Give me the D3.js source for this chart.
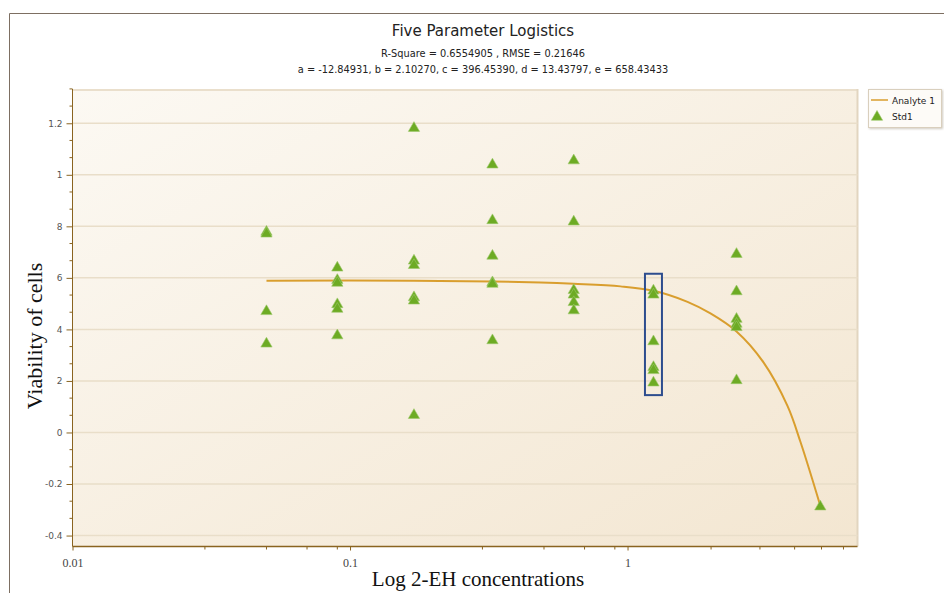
<!DOCTYPE html>
<html>
<head>
<meta charset="utf-8">
<script src="https://cdn.jsdelivr.net/npm/d3@7"></script>
<style>
    body { margin: 0; background: #fff; }
    svg { display: block; }
</style>
</head>
<body>
<div id="chart"></div>
<script>
// concentrations of each standard group (x) and the measured viabilities (y)
const concentrations = [0.05, 0.09, 0.17, 0.326, 0.64, 1.24, 2.47, 4.95];
const viability = [
    [0.782, 0.775, 0.474, 0.348],
    [0.643, 0.595, 0.584, 0.501, 0.483, 0.380],
    [1.185, 0.670, 0.653, 0.528, 0.515, 0.071],
    [1.043, 0.827, 0.689, 0.586, 0.580, 0.361],
    [1.059, 0.822, 0.556, 0.538, 0.509, 0.477],
    [0.554, 0.538, 0.357, 0.257, 0.245, 0.197],
    [0.696, 0.551, 0.444, 0.425, 0.412, 0.206],
    [-0.284]
];

// fitted curve (Analyte 1)
const fitX = [0.05, 0.17, 0.326, 0.486, 0.64, 0.944, 1.24, 1.645, 1.99, 2.47, 3.09, 3.77, 4.20, 4.95];
const fitY = [0.589, 0.589, 0.586, 0.582, 0.577, 0.567, 0.550, 0.507, 0.462, 0.392, 0.272, 0.103, -0.037, -0.284];

// highlighted group (blue box)
const boxGroup = 5;
const boxRange = [0.145, 0.616];

const yTickValues = [-0.4, -0.2, 0, 0.2, 0.4, 0.6, 0.8, 1, 1.2];
const yTickLabels = ['-0.4', '-0.2', '0', '2', '4', '6', '8', '1', '1.2'];
const xTickValues = [0.01, 0.1, 1];
const xTickLabels = ['0.01', '0.1', '1'];
const xMinorTicks = [0.03, 0.05, 0.07, 0.09, 0.3, 0.5, 0.7, 0.9, 2, 3, 4, 5, 6];

const title = 'Five Parameter Logistics';
const subtitle1 = 'R-Square = 0.6554905 , RMSE = 0.21646';
const subtitle2 = 'a = -12.84931, b = 2.10270, c = 396.45390, d = 13.43797, e = 658.43433';

const width = 944;
const height = 593;
const plot = { left: 72.5, right: 857.5, top: 89, bottom: 546.5 };

const svg = d3.select('#chart')
    .append('svg')
    .attr('width', width)
    .attr('height', height);

const defs = svg.append('defs');
const grad = defs.append('linearGradient')
    .attr('id', 'bg')
    .attr('x1', '0%').attr('y1', '0%')
    .attr('x2', '100%').attr('y2', '100%');
grad.append('stop').attr('offset', '0%').attr('stop-color', '#fcf9f3');
grad.append('stop').attr('offset', '100%').attr('stop-color', '#f3e6d1');

const shadow = defs.append('filter').attr('id', 'shadow');
shadow.append('feDropShadow')
    .attr('dx', 1).attr('dy', 1).attr('stdDeviation', 1)
    .attr('flood-color', '#b0a898').attr('flood-opacity', 0.6);

// outer frame
svg.append('path')
    .attr('d', `M9.5,${height} V13.5 H${width}`)
    .attr('fill', 'none')
    .attr('stroke', '#7d6f62')
    .attr('stroke-width', 1);

// titles
svg.append('text')
    .attr('x', 483).attr('y', 36)
    .attr('text-anchor', 'middle')
    .style('font-family', 'DejaVu Sans, sans-serif')
    .style('font-size', '15px')
    .attr('fill', '#222')
    .text(title);

svg.append('text')
    .attr('x', 483).attr('y', 57)
    .attr('text-anchor', 'middle')
    .style('font-family', 'DejaVu Sans, sans-serif')
    .style('font-size', '9.8px')
    .attr('fill', '#222')
    .text(subtitle1);

svg.append('text')
    .attr('x', 483).attr('y', 73)
    .attr('text-anchor', 'middle')
    .style('font-family', 'DejaVu Sans, sans-serif')
    .style('font-size', '9.8px')
    .attr('fill', '#222')
    .text(subtitle2);

// scales
const xScale = d3.scaleLog().domain([0.01, 6.74]).range([plot.left, plot.right]);
const yScale = d3.scaleLinear().domain([-0.4425, 1.333]).range([plot.bottom, plot.top]);

// plot background
svg.append('rect')
    .attr('x', plot.left)
    .attr('y', plot.top)
    .attr('width', plot.right - plot.left)
    .attr('height', plot.bottom - plot.top)
    .attr('fill', 'url(#bg)');

svg.append('line')
    .attr('x1', plot.left).attr('x2', plot.right)
    .attr('y1', plot.top + 1).attr('y2', plot.top + 1)
    .attr('stroke', '#eadfcc').attr('stroke-width', 2);
svg.append('line')
    .attr('x1', plot.right).attr('x2', plot.right)
    .attr('y1', plot.top).attr('y2', plot.bottom)
    .attr('stroke', '#e2d5c0').attr('stroke-width', 2);

// gridlines
svg.append('g')
    .attr('class', 'gridlines')
    .selectAll('line')
    .data(yTickValues)
    .join('line')
    .attr('x1', plot.left).attr('x2', plot.right)
    .attr('y1', (d) => yScale(d)).attr('y2', (d) => yScale(d))
    .attr('stroke', '#e9dec9')
    .attr('stroke-width', 1.5);

// y axis
const yMinor = d3.range(-0.4, 1.34, 0.2 / 3)
    .filter((d, i) => i % 3 !== 0);

const yAxisG = svg.append('g').attr('transform', `translate(${plot.left}, 0)`);
yAxisG.call(d3.axisLeft(yScale)
    .tickValues(yTickValues)
    .tickSize(6)
    .tickPadding(4)
    .tickFormat((d, i) => yTickLabels[i]));
yAxisG.append('g')
    .selectAll('line')
    .data(yMinor)
    .join('line')
    .attr('x1', -3).attr('x2', 0)
    .attr('y1', (d) => yScale(d)).attr('y2', (d) => yScale(d))
    .attr('stroke', '#8a6420');
yAxisG.select('.domain').attr('d', `M0,${plot.top}V${plot.bottom}`);
yAxisG.selectAll('.domain, .tick line').attr('stroke', '#8a6420');
yAxisG.selectAll('.tick text')
    .style('font-family', 'DejaVu Sans, sans-serif')
    .style('font-size', '9px')
    .attr('fill', '#555');

// x axis
const xAxisG = svg.append('g').attr('transform', `translate(0, ${plot.bottom})`);
xAxisG.call(d3.axisBottom(xScale)
    .tickValues(xTickValues)
    .tickSize(4)
    .tickPadding(8)
    .tickFormat((d, i) => xTickLabels[i]));
xAxisG.append('g')
    .selectAll('line')
    .data(xMinorTicks)
    .join('line')
    .attr('x1', (d) => xScale(d)).attr('x2', (d) => xScale(d))
    .attr('y1', 0).attr('y2', 3)
    .attr('stroke', '#8a6420');
xAxisG.select('.domain').attr('d', `M${plot.left},0H${plot.right}`).attr('stroke-width', 1.5);
xAxisG.selectAll('.domain, .tick line').attr('stroke', '#8a6420');
xAxisG.selectAll('.tick text')
    .style('font-family', 'Liberation Serif, serif')
    .style('font-size', '12px')
    .attr('fill', '#444');

// axis titles
svg.append('text')
    .attr('transform', 'translate(42, 336) rotate(-90)')
    .attr('text-anchor', 'middle')
    .style('font-family', 'Liberation Serif, serif')
    .style('font-size', '22px')
    .attr('fill', '#111')
    .text('Viability of cells');

svg.append('text')
    .attr('x', 478).attr('y', 586)
    .attr('text-anchor', 'middle')
    .style('font-family', 'Liberation Serif, serif')
    .style('font-size', '21px')
    .attr('fill', '#111')
    .text('Log 2-EH concentrations');

// fitted curve
const fitData = fitX.map((x, i) => ({ x, y: fitY[i] }));
const line = d3.line()
    .x((d) => xScale(d.x))
    .y((d) => yScale(d.y))
    .curve(d3.curveCatmullRom.alpha(0.5));

svg.append('path')
    .datum(fitData)
    .attr('d', line)
    .attr('fill', 'none')
    .attr('stroke', '#d99e2e')
    .attr('stroke-width', 2);

// points
const points = concentrations.flatMap((c, gi) =>
    viability[gi].map((v) => ({ x: c, y: v })));

const triangle = d3.symbol().type(d3.symbolTriangle).size(55);

svg.append('g')
    .attr('class', 'dots')
    .selectAll('path')
    .data(points)
    .join('path')
    .attr('transform', (d) => `translate(${xScale(d.x)}, ${yScale(d.y) + 1})`)
    .attr('d', triangle)
    .attr('fill', '#6dab24')
    .attr('stroke', '#9cc86a')
    .attr('stroke-width', 0.6);

// highlight box
const bx = xScale(concentrations[boxGroup]);
svg.append('rect')
    .attr('x', bx - 8.5)
    .attr('y', yScale(boxRange[1]))
    .attr('width', 17)
    .attr('height', yScale(boxRange[0]) - yScale(boxRange[1]))
    .attr('fill', 'none')
    .attr('stroke', '#2d4d8e')
    .attr('stroke-width', 2);

// legend
const legend = svg.append('g').attr('transform', 'translate(868, 89)');
legend.append('rect')
    .attr('x', 0.5).attr('y', 0.5)
    .attr('width', 73).attr('height', 38)
    .attr('fill', '#fdfbf7')
    .attr('stroke', '#d9cfbd')
    .attr('filter', 'url(#shadow)');
legend.append('line')
    .attr('x1', 3).attr('x2', 20)
    .attr('y1', 11).attr('y2', 11)
    .attr('stroke', '#d99e2e')
    .attr('stroke-width', 1.5);
legend.append('text')
    .attr('x', 24).attr('y', 15)
    .style('font-family', 'DejaVu Sans, sans-serif')
    .style('font-size', '9px')
    .attr('fill', '#222')
    .text('Analyte 1');
legend.append('path')
    .attr('transform', 'translate(9, 28)')
    .attr('d', triangle)
    .attr('fill', '#6dab24')
    .attr('stroke', '#9cc86a')
    .attr('stroke-width', 0.6);
legend.append('text')
    .attr('x', 24).attr('y', 31)
    .style('font-family', 'DejaVu Sans, sans-serif')
    .style('font-size', '9px')
    .attr('fill', '#222')
    .text('Std1');
</script>
</body>
</html>
